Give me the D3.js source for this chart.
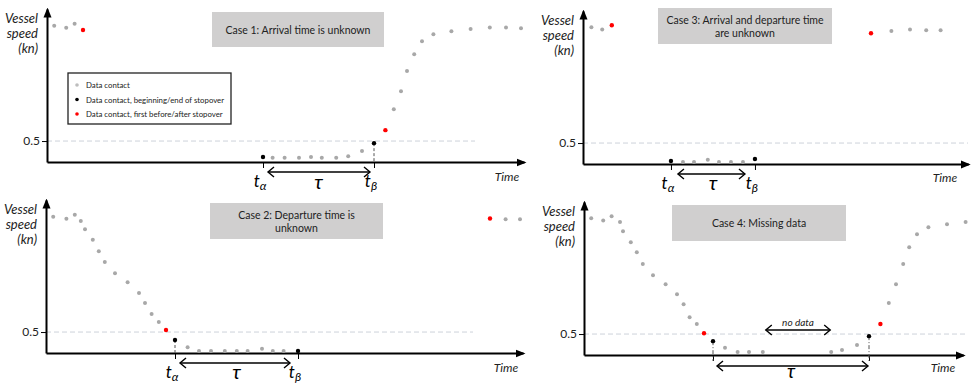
<!DOCTYPE html>
<html>
<head>
<meta charset="utf-8">
<script src="https://cdn.jsdelivr.net/npm/d3@7"></script>
<style>
  body { margin: 0; background: #fff; }
  text { font-family: Lato, "Open Sans", sans-serif; }
</style>
</head>
<body>
<div id="chart"></div>
<script>
// [time (h), speed (kn), kind]  kind: c = contact, b = beginning/end of stopover, f = first before/after
const case1Contacts = [
  [0.6,3.25,"c"],[1.6,3.2,"c"],[2.3,3.3,"c"],[3.0,3.15,"f"],
  [18.0,0.12,"b"],[18.8,0.1,"c"],[19.8,0.1,"c"],[21.0,0.1,"c"],[22.0,0.12,"c"],[22.9,0.1,"c"],
  [24.1,0.1,"c"],[25.1,0.14,"c"],[26.25,0.26,"c"],[27.25,0.45,"b"],[28.2,0.76,"f"],
  [28.9,1.26,"c"],[29.5,1.69,"c"],[30.0,2.17,"c"],[30.6,2.57,"c"],[31.25,2.88,"c"],[32.2,3.05,"c"],
  [33.7,3.12,"c"],[35.3,3.17,"c"],[36.9,3.21,"c"],[38.25,3.21,"c"],[39.5,3.19,"c"]
];
const case2Contacts = [
  [0.6,3.25,"c"],[1.7,3.2,"c"],[2.4,3.3,"c"],[2.9,3.15,"c"],[3.25,2.95,"c"],[3.9,2.7,"c"],
  [4.4,2.43,"c"],[4.9,2.17,"c"],[5.75,1.9,"c"],[6.8,1.69,"c"],[7.75,1.43,"c"],[8.25,1.19,"c"],
  [8.8,0.93,"c"],[9.4,0.74,"c"],[10.0,0.55,"f"],[10.75,0.31,"b"],[11.8,0.14,"c"],[12.75,0.05,"c"],
  [13.75,0.05,"c"],[14.9,0.05,"c"],[15.9,0.05,"c"],[16.8,0.05,"c"],[18.0,0.1,"c"],[18.9,0.05,"c"],
  [19.8,0.05,"c"],[21.0,0.05,"b"],[37.0,3.21,"f"],[38.3,3.19,"c"],[39.5,3.19,"c"]
];
const case3Contacts = [
  [0.7,3.26,"c"],[1.6,3.21,"c"],[2.4,3.31,"f"],
  [7.33,0.07,"b"],[8.33,0.05,"c"],[9.25,0.05,"c"],[10.4,0.1,"c"],[11.33,0.05,"c"],[12.33,0.05,"c"],
  [13.33,0.05,"c"],[14.33,0.12,"b"],
  [24.0,3.12,"f"],[25.7,3.17,"c"],[27.25,3.21,"c"],[28.6,3.19,"c"],[29.8,3.19,"c"]
];
const case4Contacts = [
  [0.6,3.26,"c"],[1.6,3.21,"c"],[2.3,3.31,"c"],[3.0,3.17,"c"],[3.25,2.95,"c"],[3.9,2.69,"c"],
  [4.4,2.45,"c"],[4.9,2.17,"c"],[5.75,1.9,"c"],[6.8,1.69,"c"],[7.75,1.45,"c"],[8.3,1.21,"c"],
  [8.8,0.9,"c"],[9.4,0.74,"c"],[10.0,0.52,"f"],[10.75,0.33,"b"],[11.75,0.17,"c"],[12.8,0.07,"c"],
  [13.75,0.07,"c"],[14.9,0.07,"c"],
  [20.6,0.07,"c"],[21.5,0.12,"c"],[22.75,0.24,"c"],[23.75,0.45,"b"],[24.7,0.74,"f"],
  [25.4,1.24,"c"],[26.0,1.69,"c"],[26.6,2.17,"c"],[27.1,2.57,"c"],[27.75,2.88,"c"],[28.7,3.05,"c"],
  [30.25,3.12,"c"],[31.8,3.17,"c"]
];
const caseTitles = [
  ["Case 1: Arrival time is unknown"],
  ["Case 2: Departure time is", "unknown"],
  ["Case 3: Arrival and departure time", "are unknown"],
  ["Case 4: Missing data"]
];
const speedTicks = [0.5];
const legendLabels = ["Data contact", "Data contact, beginning/end of stopover", "Data contact, first before/after stopover"];
const legendKinds = ["c", "b", "f"];

const color = d3.scaleOrdinal().domain(["c", "b", "f"]).range(["#a8a8a8", "#000000", "#ff0000"]);

const svg = d3.select("#chart").append("svg")
    .attr("width", 973).attr("height", 383);

// markers
const defs = svg.append("defs");
defs.append("marker").attr("id", "axisHead")
    .attr("markerUnits", "userSpaceOnUse").attr("viewBox", "0 -5 10 10")
    .attr("markerWidth", 10).attr("markerHeight", 10).attr("refX", 8).attr("refY", 0)
    .attr("orient", "auto")
  .append("path").attr("d", "M0,-4L10,0L0,4Z").attr("fill", "#000");
defs.append("marker").attr("id", "openHead")
    .attr("markerUnits", "userSpaceOnUse").attr("viewBox", "-8 -6 10 12")
    .attr("markerWidth", 10).attr("markerHeight", 12).attr("refX", 0).attr("refY", 0)
    .attr("orient", "auto-start-reverse")
  .append("path").attr("d", "M-6,-5L0,0L-6,5").attr("fill", "none")
    .attr("stroke", "#000").attr("stroke-width", 1.4);

const panels = [
  {data: case1Contacts, title: caseTitles[0], ox: 47, oy: 162, xMax: 39.75, lineEnd: 428,
   box: [165, -150, 172, 35], time: [460, 15], tLabels: true, legend: true, inset: [5, 4], tauY: 27, tauSize: 20},
  {data: case2Contacts, title: caseTitles[1], ox: 46, oy: 353, xMax: 39.75, lineEnd: 427,
   box: [164, -150, 173, 36], time: [460, 15], tLabels: true, inset: [5, 8], tauY: 26, tauSize: 20},
  {data: case3Contacts, title: caseTitles[2], ox: 583, oy: 164, xMax: 32.1, lineEnd: 385,
   box: [75, -156, 174, 36], time: [362, 14], tLabels: true, inset: [7, 10], tauY: 26, tauSize: 20},
  {data: case4Contacts, title: caseTitles[3], ox: 584, oy: 355, xMax: 31.6, lineEnd: 384,
   box: [88, -150, 174, 36], time: [359, 13], tLabels: false, inset: [4, 1], tauY: 23, tauSize: 19, gap: true}
];

panels.forEach(p => {
  const g = svg.append("g").attr("transform", `translate(${p.ox},${p.oy})`);
  const x = d3.scaleLinear().domain([0, p.xMax]).range([0, p.xMax * 12]);
  const y = d3.scaleLinear().domain([0, 3.65]).range([0, -153]);
  const bounds = p.data.filter(d => d[2] === "b");

  // 0.5 reference line
  g.append("line")
    .attr("x1", 0).attr("x2", p.lineEnd)
    .attr("y1", y(0.5)).attr("y2", y(0.5))
    .attr("stroke", "#cdd3da").attr("stroke-width", 1).attr("stroke-dasharray", "5,3");

  // title box
  g.append("rect").attr("x", p.box[0]).attr("y", p.box[1])
    .attr("width", p.box[2]).attr("height", p.box[3]).attr("fill", "#d0cfcf");
  const tt = g.append("text").attr("text-anchor", "middle")
    .attr("font-size", 10.5).attr("fill", "#222");
  p.title.forEach((line, i) => {
    tt.append("tspan").attr("x", p.box[0] + p.box[2] / 2)
      .attr("y", p.box[1] + p.box[3] / 2 + 4 + (i - (p.title.length - 1) / 2) * 13)
      .text(line);
  });

  // y axis
  const yAxis = g.append("g").call(d3.axisLeft(y).tickValues(speedTicks).tickSize(5).tickSizeOuter(0)
      .tickFormat(d3.format(".1f")));
  yAxis.select(".domain").attr("stroke-width", 2).attr("marker-end", "url(#axisHead)");
  yAxis.selectAll(".tick text").attr("font-size", 12).attr("font-family", "Lato, sans-serif")
    .attr("fill", "#222").attr("x", -7);

  // x axis with ticks at beginning/end of stopover
  const xAxis = g.append("g").call(d3.axisBottom(x).tickValues(bounds.map(d => d[0]))
      .tickSize(6).tickSizeOuter(0).tickFormat(""));
  xAxis.select(".domain").attr("stroke-width", 2).attr("marker-end", "url(#axisHead)");

  // y label
  const yl = g.append("text").attr("text-anchor", "end").attr("font-size", 13)
    .attr("font-style", "italic").attr("fill", "#222");
  ["Vessel", "speed", "(kn)"].forEach((s, i) => {
    yl.append("tspan").attr("x", -9).attr("y", -139 + i * 15).text(s);
  });

  g.append("text").attr("x", p.time[0]).attr("y", p.time[1] + 4)
    .attr("text-anchor", "middle").attr("font-size", 12).attr("font-style", "italic")
    .attr("fill", "#222").text("Time");

  // dashed drop lines from elevated stopover points
  g.selectAll(".drop").data(bounds.filter(d => d[1] > 0.2)).join("line")
    .attr("x1", d => x(d[0])).attr("x2", d => x(d[0]))
    .attr("y1", d => y(d[1])).attr("y2", p.gap ? 6 : 0)
    .attr("stroke", "#555").attr("stroke-width", 1)
    .attr("stroke-dasharray", p.gap ? "4,2,1,2" : "3,2");

  // contacts
  g.selectAll(".pt").data(p.data).join("circle")
    .attr("cx", d => x(d[0])).attr("cy", d => y(d[1]))
    .attr("r", d => d[2] === "c" ? 2 : 2.2)
    .attr("fill", d => color(d[2]));

  // tau arrow
  const xa = x(bounds[0][0]), xb = x(bounds[1][0]);
  const ay = p.gap ? 11 : 10;
  g.append("line").attr("x1", xa + p.inset[0]).attr("x2", xb - p.inset[1])
    .attr("y1", ay).attr("y2", ay).attr("stroke", "#000").attr("stroke-width", 1.4)
    .attr("marker-start", "url(#openHead)").attr("marker-end", "url(#openHead)");
  g.append("text").attr("x", (xa + xb) / 2).attr("y", p.tauY)
    .attr("text-anchor", "middle").attr("font-family", "Liberation Serif, serif")
    .attr("font-style", "italic").attr("font-size", p.tauSize).text("τ");

  if (p.tLabels) {
    [["α", xa], ["β", xb]].forEach(([sub, xx]) => {
      const t = g.append("text").attr("x", xx - 3).attr("y", 25)
        .attr("text-anchor", "middle").attr("font-family", "Liberation Serif, serif")
        .attr("font-style", "italic").attr("font-size", 17);
      t.append("tspan").text("t");
      t.append("tspan").attr("font-size", 12).attr("dy", 3).text(sub);
    });
  }

  // missing data arrow
  if (p.gap) {
    let gi = 1;
    p.data.forEach((d, i) => { if (i > 0 && d[0] - p.data[i - 1][0] > 3) gi = i; });
    const g0 = x(p.data[gi - 1][0]) + 3, g1 = x(p.data[gi][0]) - 1;
    g.append("line").attr("x1", g0).attr("x2", g1).attr("y1", -25).attr("y2", -25)
      .attr("stroke", "#000").attr("stroke-width", 1.4)
      .attr("marker-start", "url(#openHead)").attr("marker-end", "url(#openHead)");
    g.append("text").attr("x", (g0 + g1) / 2).attr("y", -29)
      .attr("text-anchor", "middle").attr("font-size", 10).attr("font-style", "italic")
      .attr("fill", "#222").text("no data");
  }

  // legend
  if (p.legend) {
    const lg = g.append("g").attr("transform", "translate(21,-89)");
    lg.append("rect").attr("width", 163).attr("height", 51)
      .attr("fill", "#fff").attr("stroke", "#222").attr("stroke-width", 1.3);
    legendLabels.forEach((s, i) => {
      lg.append("circle").attr("cx", 9).attr("cy", 12 + i * 14.5).attr("r", 1.8)
        .attr("fill", legendKinds[i] === "c" ? "#bdbdbd" : color(legendKinds[i]));
      lg.append("text").attr("x", 18).attr("y", 15 + i * 14.5)
        .attr("font-size", 7.8).attr("fill", "#222").text(s);
    });
  }
});
</script>
</body>
</html>
